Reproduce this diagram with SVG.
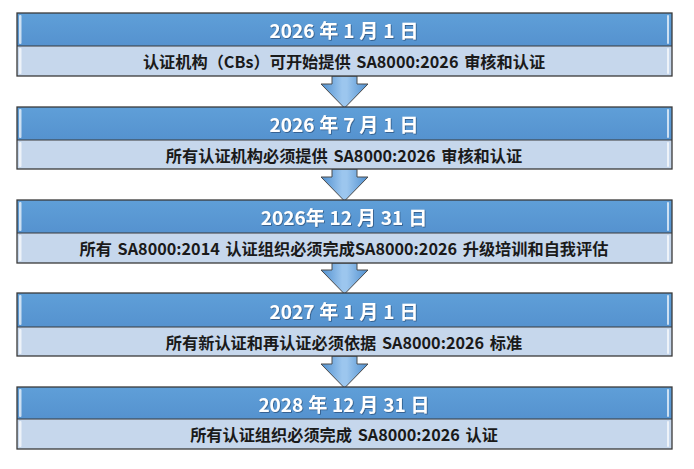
<svg xmlns="http://www.w3.org/2000/svg" width="694" height="469" viewBox="0 0 694 469">
<defs>
<linearGradient id="hdr" x1="0" y1="0" x2="0" y2="1">
<stop offset="0" stop-color="#5f9fd8"/>
<stop offset="1" stop-color="#5592cf"/>
</linearGradient>
<linearGradient id="arw" x1="0" y1="0" x2="1" y2="0">
<stop offset="0" stop-color="#4f8fcf"/>
<stop offset="0.45" stop-color="#9cc6ee"/>
<stop offset="0.55" stop-color="#9cc6ee"/>
<stop offset="1" stop-color="#4f8fcf"/>
</linearGradient>
<filter id="ts" x="-5%" y="-30%" width="110%" height="160%">
<feDropShadow dx="0.8" dy="0.8" stdDeviation="0.6" flood-color="#1d3d60" flood-opacity="0.7"/>
</filter>
</defs>
<style>
.hd{fill:url(#hdr);}
.bd{fill:#c6d7ec;}
.ol{fill:none;stroke:#3a3a3a;stroke-width:1.3;}
.dv{stroke:#3a3a3a;stroke-width:1.1;}
.ht{font-family:"Noto Sans CJK SC","Microsoft YaHei",sans-serif;font-weight:700;font-size:19px;word-spacing:0.6px;fill:#ffffff;text-anchor:middle;dominant-baseline:central;filter:url(#ts);}
.bt{font-family:"Noto Sans CJK SC","Microsoft YaHei",sans-serif;font-weight:700;font-size:16.2px;word-spacing:2px;fill:#1a1a1a;text-anchor:middle;dominant-baseline:central;}
.ar{fill:url(#arw);stroke:#4a4a4a;stroke-width:1;}
.eh{fill:#ffffff;opacity:0.7;}
</style>
<g id="connectors">
<path class="ar" d="M332,76 V84 H321 L344.5,108 L368,84 H357 V76 Z"/>
<path class="ar" d="M332,169 V177 H321 L344.5,201 L368,177 H357 V169 Z"/>
<path class="ar" d="M332,263 V270 H321 L344.5,294 L368,270 H357 V263 Z"/>
<path class="ar" d="M332,356 V364 H321 L344.5,388 L368,364 H357 V356 Z"/>
</g>
<g id="node1">
<rect class="hd" x="17" y="13" width="655" height="33"/>
<rect class="bd" x="17" y="46" width="655" height="30"/>
<rect class="eh" x="19" y="15" width="2.5" height="29" rx="1"/>
<rect class="eh" x="19" y="48" width="2.5" height="26" rx="1"/>
<rect class="eh" x="667" y="15" width="2" height="29" rx="1"/>
<rect class="eh" x="667" y="48" width="2" height="26" rx="1"/>
<line class="dv" x1="17" y1="46" x2="672" y2="46"/>
<rect class="ol" x="17" y="13" width="655" height="63"/>
<text class="ht" x="344" y="29.5">2026 年 1 月 1 日</text>
<text class="bt" x="344" y="61">认证机构（CBs）可开始提供 SA8000:2026 审核和认证</text>
</g>
<g id="node2">
<rect class="hd" x="17" y="107" width="655" height="33"/>
<rect class="bd" x="17" y="140" width="655" height="29"/>
<rect class="eh" x="19" y="109" width="2.5" height="29" rx="1"/>
<rect class="eh" x="19" y="142" width="2.5" height="25" rx="1"/>
<rect class="eh" x="667" y="109" width="2" height="29" rx="1"/>
<rect class="eh" x="667" y="142" width="2" height="25" rx="1"/>
<line class="dv" x1="17" y1="140" x2="672" y2="140"/>
<rect class="ol" x="17" y="107" width="655" height="62"/>
<text class="ht" x="344" y="123.5">2026 年 7 月 1 日</text>
<text class="bt" x="344" y="154.5">所有认证机构必须提供 SA8000:2026 审核和认证</text>
</g>
<g id="node3">
<rect class="hd" x="17" y="200" width="655" height="33"/>
<rect class="bd" x="17" y="233" width="655" height="30"/>
<rect class="eh" x="19" y="202" width="2.5" height="29" rx="1"/>
<rect class="eh" x="19" y="235" width="2.5" height="26" rx="1"/>
<rect class="eh" x="667" y="202" width="2" height="29" rx="1"/>
<rect class="eh" x="667" y="235" width="2" height="26" rx="1"/>
<line class="dv" x1="17" y1="233" x2="672" y2="233"/>
<rect class="ol" x="17" y="200" width="655" height="63"/>
<text class="ht" x="344" y="216.5">2026年 12 月 31 日</text>
<text class="bt" x="344" y="248">所有 SA8000:2014 认证组织必须完成SA8000:2026 升级培训和自我评估</text>
</g>
<g id="node4">
<rect class="hd" x="17" y="293" width="655" height="34"/>
<rect class="bd" x="17" y="327" width="655" height="29"/>
<rect class="eh" x="19" y="295" width="2.5" height="30" rx="1"/>
<rect class="eh" x="19" y="329" width="2.5" height="25" rx="1"/>
<rect class="eh" x="667" y="295" width="2" height="30" rx="1"/>
<rect class="eh" x="667" y="329" width="2" height="25" rx="1"/>
<line class="dv" x1="17" y1="327" x2="672" y2="327"/>
<rect class="ol" x="17" y="293" width="655" height="63"/>
<text class="ht" x="344" y="310">2027 年 1 月 1 日</text>
<text class="bt" x="344" y="341.5">所有新认证和再认证必须依据 SA8000:2026 标准</text>
</g>
<g id="node5">
<rect class="hd" x="17" y="387" width="655" height="32"/>
<rect class="bd" x="17" y="419" width="655" height="30"/>
<rect class="eh" x="19" y="389" width="2.5" height="28" rx="1"/>
<rect class="eh" x="19" y="421" width="2.5" height="26" rx="1"/>
<rect class="eh" x="667" y="389" width="2" height="28" rx="1"/>
<rect class="eh" x="667" y="421" width="2" height="26" rx="1"/>
<line class="dv" x1="17" y1="419" x2="672" y2="419"/>
<rect class="ol" x="17" y="387" width="655" height="62"/>
<text class="ht" x="344" y="403">2028 年 12 月 31 日</text>
<text class="bt" x="344" y="434">所有认证组织必须完成 SA8000:2026 认证</text>
</g>
</svg>
